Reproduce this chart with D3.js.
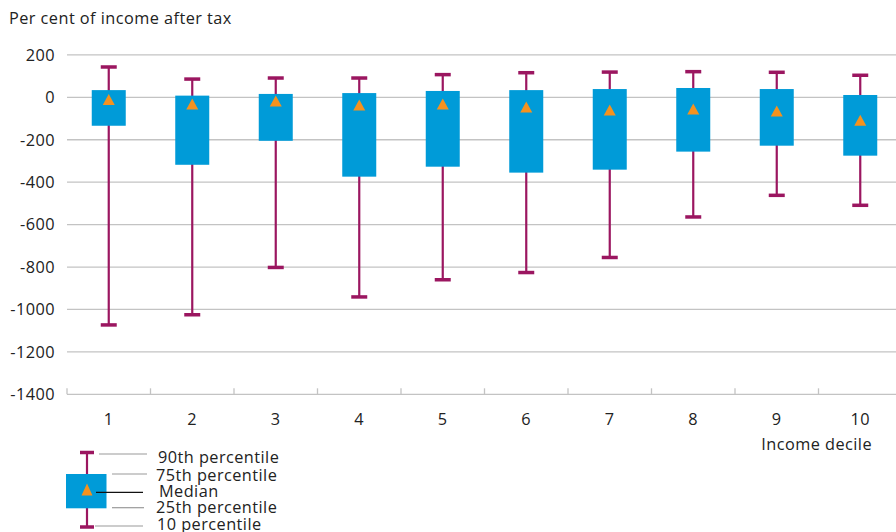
<!DOCTYPE html>
<html>
<head>
<meta charset="utf-8">
<script src="https://cdn.jsdelivr.net/npm/d3@7"></script>
<style>
  html, body { margin: 0; padding: 0; background: #fff; }
  svg { display: block; font-family: "Open Sans", "Noto Sans", sans-serif; }
  svg text { letter-spacing: 0.45px; }
</style>
</head>
<body>
<svg id="chart" width="896" height="532"></svg>
<script>
// ---- Data ----
const deciles = ["1", "2", "3", "4", "5", "6", "7", "8", "9", "10"];
const p10 = [-1073, -1025, -802, -941, -860, -826, -755, -564, -462, -509];
const p25 = [-134, -318, -205, -374, -327, -355, -341, -256, -228, -275];
const median = [-10, -32, -17, -36, -31, -46, -60, -55, -65, -108];
const p75 = [34, 8, 16, 20, 30, 34, 39, 44, 39, 11];
const p90 = [143, 86, 91, 91, 107, 116, 119, 121, 118, 104];
const yTicks = [200, 0, -200, -400, -600, -800, -1000, -1200, -1400];
const yTitle = "Per cent of income after tax";
const xTitle = "Income decile";
const legendLabels = ["90th percentile", "75th percentile", "Median", "25th percentile", "10 percentile"];

// ---- Styles ----
const BLUE = "#009bd8", MAROON = "#9b1660", ORANGE = "#f5921e", GRID = "#c3c3c3", TEXT = "#222";
const FS = 16.3;

const svg = d3.select("#chart");
const x = d3.scaleBand().domain(deciles).range([67, 902]).paddingInner(0).paddingOuter(0);
const y = d3.scaleLinear().domain([-1400, 200]).range([394.3, 54.9]);

const data = deciles.map((d, i) => ({ d, p10: p10[i], p25: p25[i], med: median[i], p75: p75[i], p90: p90[i] }));

// Title
svg.append("text").attr("x", 9).attr("y", 24).attr("font-size", FS).attr("fill", TEXT).text(yTitle);

// Gridlines
svg.append("g").selectAll("line").data(yTicks.filter(t => t !== -1400)).join("line")
  .attr("x1", 67).attr("x2", 896).attr("y1", d => y(d)).attr("y2", d => y(d))
  .attr("stroke", GRID).attr("stroke-width", 1.3);

// Y labels
svg.append("g").selectAll("text").data(yTicks).join("text")
  .attr("x", 55).attr("y", d => y(d)).attr("dy", "0.36em").attr("text-anchor", "end")
  .attr("font-size", FS).attr("fill", TEXT).text(d => d);

// X axis
const xAxis = d3.axisBottom(x).tickSize(0).tickFormat(() => "");
const gx = svg.append("g").attr("transform", `translate(0,${y(-1400)})`).call(xAxis);
gx.select(".domain").remove();
gx.append("line").attr("x1", 67).attr("x2", 896).attr("y1", 0).attr("y2", 0).attr("stroke", GRID).attr("stroke-width", 1.3);
const bounds = deciles.map(d => x(d)).concat([x(deciles[9]) + x.bandwidth()]);
gx.selectAll(".bt").data(bounds).join("line").attr("class", "bt")
  .attr("x1", d => d).attr("x2", d => d).attr("y1", 0).attr("y2", -6).attr("stroke", GRID).attr("stroke-width", 1.3);
svg.append("g").selectAll("text").data(deciles).join("text")
  .attr("x", d => x(d) + x.bandwidth() / 2).attr("y", 419).attr("dy", "0.36em").attr("text-anchor", "middle")
  .attr("font-size", FS).attr("fill", TEXT).text(d => d);
svg.append("text").attr("x", 872).attr("y", 444).attr("dy", "0.36em").attr("text-anchor", "end")
  .attr("font-size", FS).attr("fill", TEXT).text(xTitle);

// Boxes
const cx = d => x(d.d) + x.bandwidth() / 2;
const BW = 34, CW = 16;
const g = svg.append("g");
g.selectAll(".wh").data(data).join("line").attr("class", "wh")
  .attr("x1", cx).attr("x2", cx).attr("y1", d => y(d.p10)).attr("y2", d => y(d.p90))
  .attr("stroke", MAROON).attr("stroke-width", 2.2);
g.selectAll(".c90").data(data).join("line").attr("class", "c90")
  .attr("x1", d => cx(d) - CW / 2).attr("x2", d => cx(d) + CW / 2).attr("y1", d => y(d.p90)).attr("y2", d => y(d.p90))
  .attr("stroke", MAROON).attr("stroke-width", 3.5);
g.selectAll(".c10").data(data).join("line").attr("class", "c10")
  .attr("x1", d => cx(d) - CW / 2).attr("x2", d => cx(d) + CW / 2).attr("y1", d => y(d.p10)).attr("y2", d => y(d.p10))
  .attr("stroke", MAROON).attr("stroke-width", 3.5);
g.selectAll(".box").data(data).join("rect").attr("class", "box")
  .attr("x", d => cx(d) - BW / 2).attr("width", BW)
  .attr("y", d => y(d.p75)).attr("height", d => y(d.p25) - y(d.p75)).attr("fill", BLUE);
const tri = "M0,-5.5L6,5.5L-6,5.5Z";
g.selectAll(".med").data(data).join("path").attr("class", "med")
  .attr("d", tri).attr("transform", d => `translate(${cx(d)},${y(d.med)})`).attr("fill", ORANGE);

// Legend
const L = svg.append("g");
const lx = 87;
const ly = { p90: 452.5, p75: 474, p25: 508.3, p10: 527 };
L.append("line").attr("x1", lx).attr("x2", lx).attr("y1", ly.p90).attr("y2", ly.p10).attr("stroke", MAROON).attr("stroke-width", 2.2);
[ly.p90, ly.p10].forEach(v => L.append("line").attr("x1", lx - 7).attr("x2", lx + 7).attr("y1", v).attr("y2", v).attr("stroke", MAROON).attr("stroke-width", 3.5));
L.append("rect").attr("x", 66).attr("y", ly.p75).attr("width", 40.5).attr("height", ly.p25 - ly.p75).attr("fill", BLUE);
L.append("path").attr("d", "M0,-6L5.5,6L-5.5,6Z").attr("transform", `translate(${lx},489.5)`).attr("fill", ORANGE);
const leaders = [
  { x1: 99, x2: 147, y: 454, c: "#999" },
  { x1: 112, x2: 147, y: 474, c: "#999" },
  { x1: 96, x2: 143, y: 492.3, c: "#111" },
  { x1: 112, x2: 144, y: 507.7, c: "#999" },
  { x1: 95, x2: 143, y: 526, c: "#999" }
];
L.selectAll(".ld").data(leaders).join("line").attr("class", "ld")
  .attr("x1", d => d.x1).attr("x2", d => d.x2).attr("y1", d => d.y).attr("y2", d => d.y)
  .attr("stroke", d => d.c).attr("stroke-width", 1.2);
const lblPos = [[158, 462.7], [156, 480.7], [159, 496.7], [156, 513.3], [157, 529.5]];
L.selectAll(".lt").data(legendLabels).join("text").attr("class", "lt")
  .attr("x", (d, i) => lblPos[i][0]).attr("y", (d, i) => lblPos[i][1])
  .attr("font-size", FS).attr("fill", TEXT).text(d => d);
</script>
</body>
</html>
